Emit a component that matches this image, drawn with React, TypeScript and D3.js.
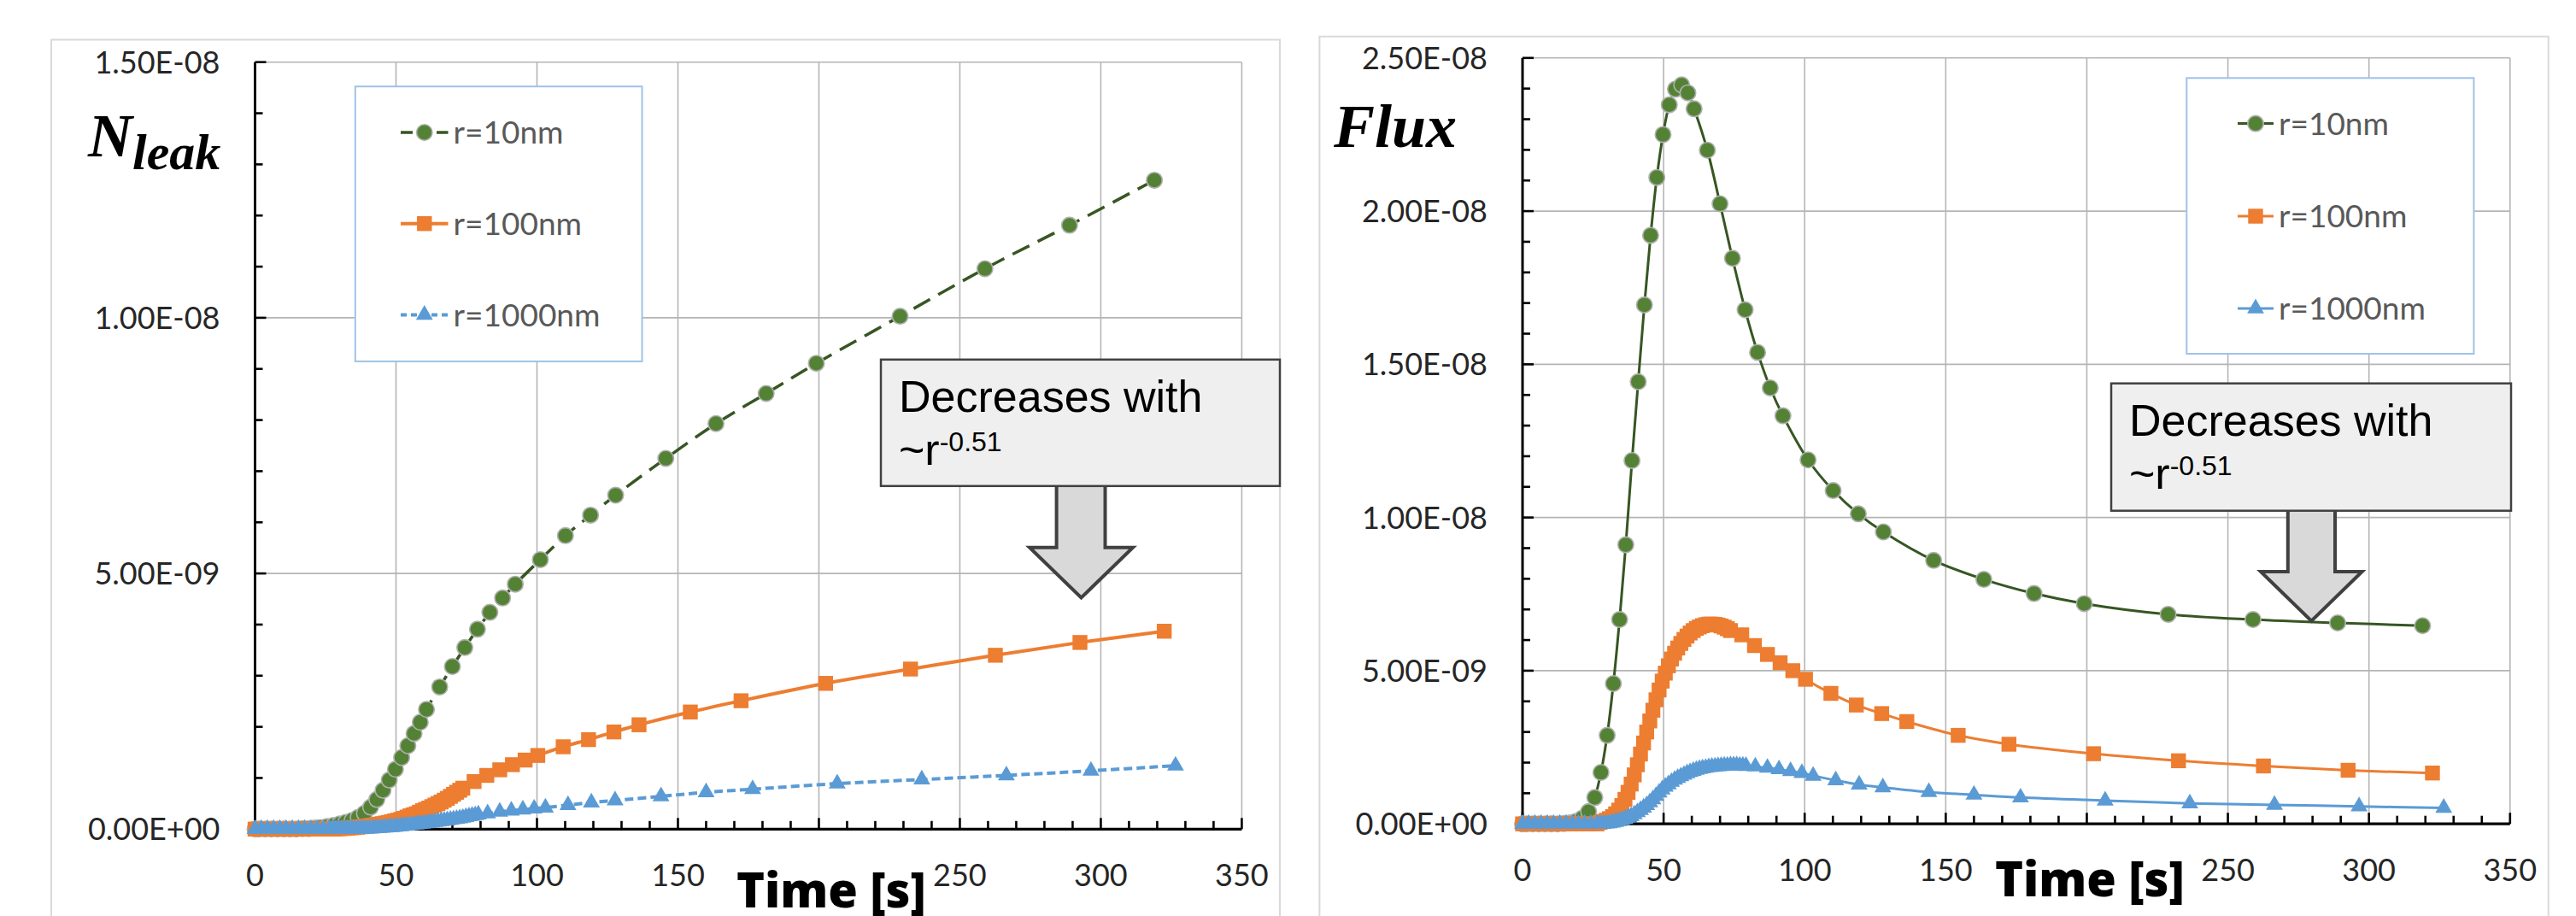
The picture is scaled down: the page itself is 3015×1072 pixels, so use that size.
import React from 'react';
import * as d3 from 'd3';

// ---- data ----
// values are in units of 1e-9 (axis labels are formatted back to E notation)

const timeR10 = [0, 1.4, 3.6, 5.8, 8.0, 10.2, 12.4, 14.6, 16.8, 19.0,
  21.2, 23.4, 25.6, 27.8, 30.0, 32.2, 34.4, 36.6, 38.8, 41.0,
  43.2, 45.4, 47.6, 49.8, 52.0, 54.2, 56.4, 58.6, 60.8,
  65.5, 70.0, 74.4, 78.9, 83.3, 87.8, 92.3,
  101.2, 110.1, 119.0, 127.9, 145.7, 163.5, 181.3, 199.1,
  228.8, 258.9, 288.9, 319.0];
const leakR10 = [0, 0, 0, 0, 0, 0, 0, 0, 0.01, 0.01,
  0.02, 0.03, 0.05, 0.07, 0.10, 0.13, 0.17, 0.23, 0.31, 0.43,
  0.58, 0.76, 0.96, 1.17, 1.40, 1.63, 1.87, 2.09, 2.34,
  2.78, 3.18, 3.55, 3.91, 4.24, 4.52, 4.79,
  5.27, 5.74, 6.14, 6.53, 7.25, 7.93, 8.52, 9.11,
  10.03, 10.96, 11.81, 12.69];
const fluxR10 = [0, 0, 0, 0, 0, 0, 0, 0.01, 0.03, 0.08,
  0.19, 0.40, 0.86, 1.68, 2.89, 4.58, 6.67, 9.11, 11.86, 14.43,
  16.94, 19.21, 21.10, 22.50, 23.47, 23.98, 24.12, 23.86, 23.34,
  21.99, 20.24, 18.46, 16.78, 15.39, 14.23, 13.32,
  11.88, 10.88, 10.12, 9.53, 8.60, 7.98, 7.52, 7.19,
  6.84, 6.67, 6.56, 6.47];

const timeR100 = [0, 2.2, 4.4, 6.6, 8.8, 11.0, 13.2, 15.4, 17.6, 19.8, 22.0, 24.2, 26.4,
  27.5, 28.6, 29.7, 30.8, 31.9, 33.0, 34.1, 35.2, 36.3, 37.4,
  38.5, 39.6, 40.7, 41.8, 42.9, 44.0, 45.1, 46.2, 47.3, 48.4,
  49.5, 50.6, 51.7, 52.8, 53.9, 55.0, 56.1, 57.2, 58.3, 59.4,
  60.5, 61.6, 62.7, 63.8, 64.9, 66.0, 67.1, 68.2, 69.3, 70.4,
  71.5, 72.6, 73.7,
  77.7, 82.2, 86.8, 91.3, 95.8, 100.3, 109.3, 118.3, 127.3, 136.2,
  154.4, 172.4, 202.4, 232.5, 262.6, 292.6, 322.5];
const leakR100 = [0, 0, 0, 0, 0, 0, 0, 0, 0, 0, 0, 0, 0,
  0, 0.005, 0.008, 0.012, 0.015, 0.02, 0.025, 0.03, 0.037, 0.045,
  0.052, 0.06, 0.068, 0.077, 0.086, 0.096, 0.107, 0.118, 0.13, 0.143,
  0.16, 0.175, 0.19, 0.21, 0.235, 0.26, 0.28, 0.30, 0.33, 0.36,
  0.385, 0.41, 0.44, 0.47, 0.50, 0.53, 0.565, 0.60, 0.64, 0.68,
  0.72, 0.76, 0.80,
  0.93, 1.05, 1.16, 1.26, 1.35, 1.44, 1.61, 1.75, 1.90, 2.04,
  2.29, 2.51, 2.85, 3.13, 3.40, 3.65, 3.87];
const fluxR100 = [0, 0, 0, 0, 0, 0, 0, 0, 0, 0, 0, 0, 0,
  0.05, 0.08, 0.12, 0.17, 0.24, 0.33, 0.45, 0.60, 0.80, 1.03,
  1.30, 1.60, 1.93, 2.28, 2.64, 3.00, 3.36, 3.71, 4.05, 4.37,
  4.66, 4.92, 5.16, 5.38, 5.57, 5.74, 5.89, 6.02, 6.13, 6.23,
  6.31, 6.38, 6.43, 6.47, 6.50, 6.52, 6.52, 6.51, 6.49, 6.46,
  6.42, 6.37, 6.31,
  6.17, 5.82, 5.53, 5.26, 5.00, 4.72, 4.26, 3.88, 3.60, 3.34,
  2.89, 2.60, 2.29, 2.06, 1.89, 1.75, 1.66];

const timeR1000 = [0, 2.2, 4.4, 6.6, 8.8, 11.0, 13.2, 15.4, 17.6, 19.8, 22.0, 24.2, 26.4,
  27.5, 28.6, 29.7, 30.8, 31.9, 33.0, 34.1, 35.2, 36.3, 37.4,
  38.5, 39.6, 40.7, 41.8, 42.9, 44.0, 45.1, 46.2, 47.3, 48.4,
  49.5, 50.6, 51.7, 52.8, 53.9, 55.0, 56.1, 57.2, 58.3, 59.4,
  60.5, 61.6, 62.7, 63.8, 64.9, 66.0, 67.1, 68.2, 69.3, 70.4,
  71.5, 72.6, 73.7, 74.8, 75.9, 77.0, 78.1, 79.2,
  82.5, 86.8, 90.9, 95.0, 99.0, 103.0, 111.0, 119.3, 127.7,
  144.0, 160.0, 176.5, 206.5, 236.5, 266.5, 296.5, 326.5];
const leakR1000 = [0, 0, 0, 0, 0, 0, 0, 0, 0, 0, 0, 0, 0,
  0, 0, 0, 0, 0, 0, 0, 0, 0.002, 0.004,
  0.006, 0.008, 0.01, 0.013, 0.016, 0.02, 0.024, 0.028, 0.033, 0.038,
  0.044, 0.05, 0.056, 0.062, 0.068, 0.075, 0.082, 0.089, 0.096, 0.104,
  0.112, 0.12, 0.128, 0.137, 0.146, 0.155, 0.164, 0.173, 0.182, 0.191,
  0.20, 0.21, 0.22, 0.235, 0.25, 0.26, 0.27, 0.285,
  0.305, 0.34, 0.36, 0.38, 0.40, 0.42, 0.47, 0.52, 0.56,
  0.64, 0.72, 0.78, 0.89, 0.97, 1.05, 1.14, 1.24];
const fluxR1000 = [0, 0, 0, 0, 0, 0, 0, 0, 0, 0, 0, 0, 0,
  0, 0, 0.01, 0.02, 0.04, 0.06, 0.09, 0.12, 0.16, 0.20,
  0.25, 0.31, 0.38, 0.45, 0.53, 0.61, 0.70, 0.80, 0.91, 1.02,
  1.12, 1.21, 1.29, 1.37, 1.44, 1.50, 1.55, 1.60, 1.65, 1.69,
  1.73, 1.76, 1.79, 1.81, 1.83, 1.85, 1.86, 1.87, 1.88, 1.89,
  1.90, 1.90, 1.91, 1.91, 1.91, 1.90, 1.90, 1.89,
  1.87, 1.83, 1.78, 1.72, 1.66, 1.57, 1.42, 1.28, 1.19,
  1.04, 0.95, 0.86, 0.76, 0.67, 0.62, 0.57, 0.52];

const seriesNames = ['r=10nm', 'r=100nm', 'r=1000nm'];
const timeTicks = [0, 50, 100, 150, 200, 250, 300, 350];
// the 200 label sits under the axis title in the original, so it is not printed
const timeTickLabels = ['0', '50', '100', '150', '', '250', '300', '350'];
const leakTicks = [0, 5, 10, 15];
const fluxTicks = [0, 5, 10, 15, 20, 25];
const xTitle = 'Time [s]';
const noteText = 'Decreases with';
const noteBase = '~r';
const noteExp = '-0.51';

// ---- styles ----
const W = 3015;
const H = 1072;
const green = '#548235';
const greenLine = '#375623';
const orange = '#ed7d31';
const blue = '#5b9bd5';
const labelFont = 'Lato, "Open Sans", sans-serif';
const titleFont = '"Open Sans", Lato, sans-serif';
const noteFont = '"Liberation Sans", Arial, sans-serif';
const mathFont = '"Liberation Serif", "DejaVu Serif", serif';

// 1.50E-08 style labels (values are stored in 1e-9 units)
function sci(v) {
  const s = (v * 1e-9).toExponential(2);
  const [m, e] = s.split('e');
  const sign = e[0] === '-' ? '-' : '+';
  const digits = e.replace(/[+-]/, '').padStart(2, '0');
  return m + 'E' + sign + digits;
}

const triPath = d3.symbol().type(d3.symbolTriangle).size(170)();

function Marker({ kind, x, y }) {
  if (kind === 'circle') {
    return <circle cx={x} cy={y} r={9.2} fill={green} stroke="#b0b0b0" strokeWidth={1.6} />;
  }
  if (kind === 'square') {
    return <rect x={x - 8.7} y={y - 8.7} width={17.4} height={17.4} fill={orange} />;
  }
  return <path d={triPath} transform={`translate(${x},${y})`} fill={blue} />;
}

function Chart({ L, yMax, yTicks, vals, dashed, yLabel }) {
  const x = d3.scaleLinear().domain([0, 350]).range([L.left, L.right]);
  const y = d3.scaleLinear().domain([0, yMax]).range([L.bottom, L.top]);
  const line = d3.line().x(d => x(d[0])).y(d => y(d[1])).curve(d3.curveCatmullRom.alpha(0.5));

  const series = [
    { t: timeR10, v: vals[0], kind: 'circle', stroke: greenLine, w: dashed ? 3.5 : 3, dash: dashed ? '22 11' : null },
    { t: timeR100, v: vals[1], kind: 'square', stroke: orange, w: dashed ? 4 : 3, dash: null },
    { t: timeR1000, v: vals[2], kind: 'triangle', stroke: blue, w: dashed ? 4 : 3, dash: dashed ? '10 5' : null },
  ];

  const minorX = d3.range(0, 351, 10);
  const minorY = d3.range(0, yMax + 0.001, 1);

  return (
    <g>
      <rect x={L.ox} y={L.oy} width={L.ow} height={1200} fill="#fff" stroke="#d9d9d9" strokeWidth={2} />

      {/* grid */}
      {timeTicks.filter(t => t > 0).map(t => (
        <line key={'gx' + t} x1={x(t)} x2={x(t)} y1={L.top} y2={L.bottom} stroke="#b5b5b5" strokeWidth={1.6} />
      ))}
      {yTicks.filter(t => t > 0).map(t => (
        <line key={'gy' + t} x1={L.left} x2={L.right} y1={y(t)} y2={y(t)} stroke="#b5b5b5" strokeWidth={1.6} />
      ))}

      {/* axes */}
      <line x1={L.left} x2={L.left} y1={L.top} y2={L.bottom} stroke="#000" strokeWidth={3} />
      <line x1={L.left} x2={L.right} y1={L.bottom} y2={L.bottom} stroke="#000" strokeWidth={3.2} />
      {minorY.map(v => (
        <line key={'ty' + v} x1={L.left} x2={L.left + (v % 5 === 0 ? 13 : 9)} y1={y(v)} y2={y(v)} stroke="#000" strokeWidth={2.6} />
      ))}
      {minorX.map(t => (
        <line key={'tx' + t} x1={x(t)} x2={x(t)} y1={L.bottom} y2={L.bottom - (t % 50 === 0 ? 13 : 9.5)} stroke="#000" strokeWidth={2.6} />
      ))}

      {/* tick labels */}
      {yTicks.map(v => (
        <text key={'ly' + v} x={L.left - 41} y={y(v)} dy="0.36em" textAnchor="end" fontFamily={labelFont} fontSize={36} fill="#262626">{sci(v)}</text>
      ))}
      {timeTicks.map((t, i) => timeTickLabels[i] ? (
        <text key={'lx' + t} x={x(t)} y={L.bottom + 67} textAnchor="middle" fontFamily={labelFont} fontSize={36} fill="#262626">{timeTickLabels[i]}</text>
      ) : null)}

      {/* series */}
      {series.map((s, i) => {
        const pts = s.t.map((t, j) => [t, s.v[j]]);
        return (
          <g key={'s' + i}>
            <path d={line(pts)} fill="none" stroke={s.stroke} strokeWidth={s.w} strokeDasharray={s.dash || undefined} />
            {pts.map((p, j) => <Marker key={j} kind={s.kind} x={x(p[0])} y={y(p[1])} />)}
          </g>
        );
      })}

      {/* legend */}
      <rect x={L.lx} y={L.ly} width={L.lw} height={L.lh} fill="#fff" stroke="#9dc3e6" strokeWidth={2} />
      {series.map((s, i) => {
        const cy = L.rows[i];
        const cx = (L.sx0 + L.sx1) / 2;
        return (
          <g key={'lg' + i}>
            <line x1={L.sx0} x2={L.sx1} y1={cy} y2={cy} stroke={s.stroke} strokeWidth={s.w}
              strokeDasharray={s.dash ? (i === 0 ? '14 7' : '7 5') : undefined} />
            <Marker kind={s.kind} x={cx} y={cy} />
            <text x={L.tx} y={cy} dy="0.36em" fontFamily={labelFont} fontSize={37} fill="#595959">{seriesNames[i]}</text>
          </g>
        );
      })}

      {/* axis titles */}
      {yLabel}
      <text x={L.titleX} y={L.titleY} fontFamily={titleFont} fontWeight={800} fontSize={56} fill="#000">{xTitle}</text>

      {/* annotation arrow + box */}
      <polygon
        points={[
          [L.ax0, L.by + L.bh - 2], [L.ax1, L.by + L.bh - 2], [L.ax1, L.headY], [L.hx1, L.headY],
          [(L.hx0 + L.hx1) / 2, L.tipY], [L.hx0, L.headY], [L.ax0, L.headY],
        ].map(p => p.join(',')).join(' ')}
        fill="#d9d9d9" stroke="#404040" strokeWidth={4} strokeLinejoin="miter" />
      <rect x={L.bx} y={L.by} width={L.bw} height={L.bh} fill="#efefef" stroke="#404040" strokeWidth={2.5} />
      <text x={L.bx + 21} y={L.by + 61} fontFamily={noteFont} fontSize={52} fill="#000">{noteText}</text>
      <text x={L.bx + 21} y={L.by + 123} fontFamily={noteFont} fontSize={52} fill="#000">
        {noteBase}<tspan dy={-16} fontSize={32}>{noteExp}</tspan>
      </text>
    </g>
  );
}

const leftLayout = {
  ox: 60, oy: 46.5, ow: 1438,
  left: 298.5, right: 1453.4, top: 72.7, bottom: 970.3,
  lx: 415.8, ly: 101.2, lw: 335.7, lh: 321.7, rows: [155, 261.7, 368.5], sx0: 469, sx1: 524.5, tx: 530.6,
  titleX: 862, titleY: 1062,
  bx: 1031, by: 420.8, bw: 467, bh: 148,
  ax0: 1236.6, ax1: 1293.5, headY: 640.8, hx0: 1205, hx1: 1326, tipY: 699.5,
};

const rightLayout = {
  ox: 1544.4, oy: 42.7, ow: 1438.3,
  left: 1782, right: 2937.8, top: 67.8, bottom: 964.2,
  lx: 2559.3, ly: 91.3, lw: 336.1, lh: 322.7, rows: [144.6, 253, 361], sx0: 2619, sx1: 2661, tx: 2667,
  titleX: 2335, titleY: 1049,
  bx: 2471, by: 448.7, bw: 468, bh: 149,
  ax0: 2677.8, ax1: 2733, headY: 669, hx0: 2646, hx1: 2764.6, tipY: 726.6,
};

export default function App() {
  const leakLabel = (
    <text x={103} y={182.5} fontFamily={mathFont} fontStyle="italic" fontWeight="bold" fontSize={72} fill="#000">
      N<tspan fontSize={60} dy={15.5}>leak</tspan>
    </text>
  );
  const fluxLabel = (
    <text x={1561} y={172} fontFamily={mathFont} fontStyle="italic" fontWeight="bold" fontSize={72} fill="#000">Flux</text>
  );
  return (
    <svg width={W} height={H} viewBox={`0 0 ${W} ${H}`}
      style={{ position: 'absolute', left: 0, top: 0, background: '#fff' }}>
      <rect width={W} height={H} fill="#fff" />
      <Chart L={leftLayout} yMax={15} yTicks={leakTicks} vals={[leakR10, leakR100, leakR1000]} dashed yLabel={leakLabel} />
      <Chart L={rightLayout} yMax={25} yTicks={fluxTicks} vals={[fluxR10, fluxR100, fluxR1000]} dashed={false} yLabel={fluxLabel} />
    </svg>
  );
}
